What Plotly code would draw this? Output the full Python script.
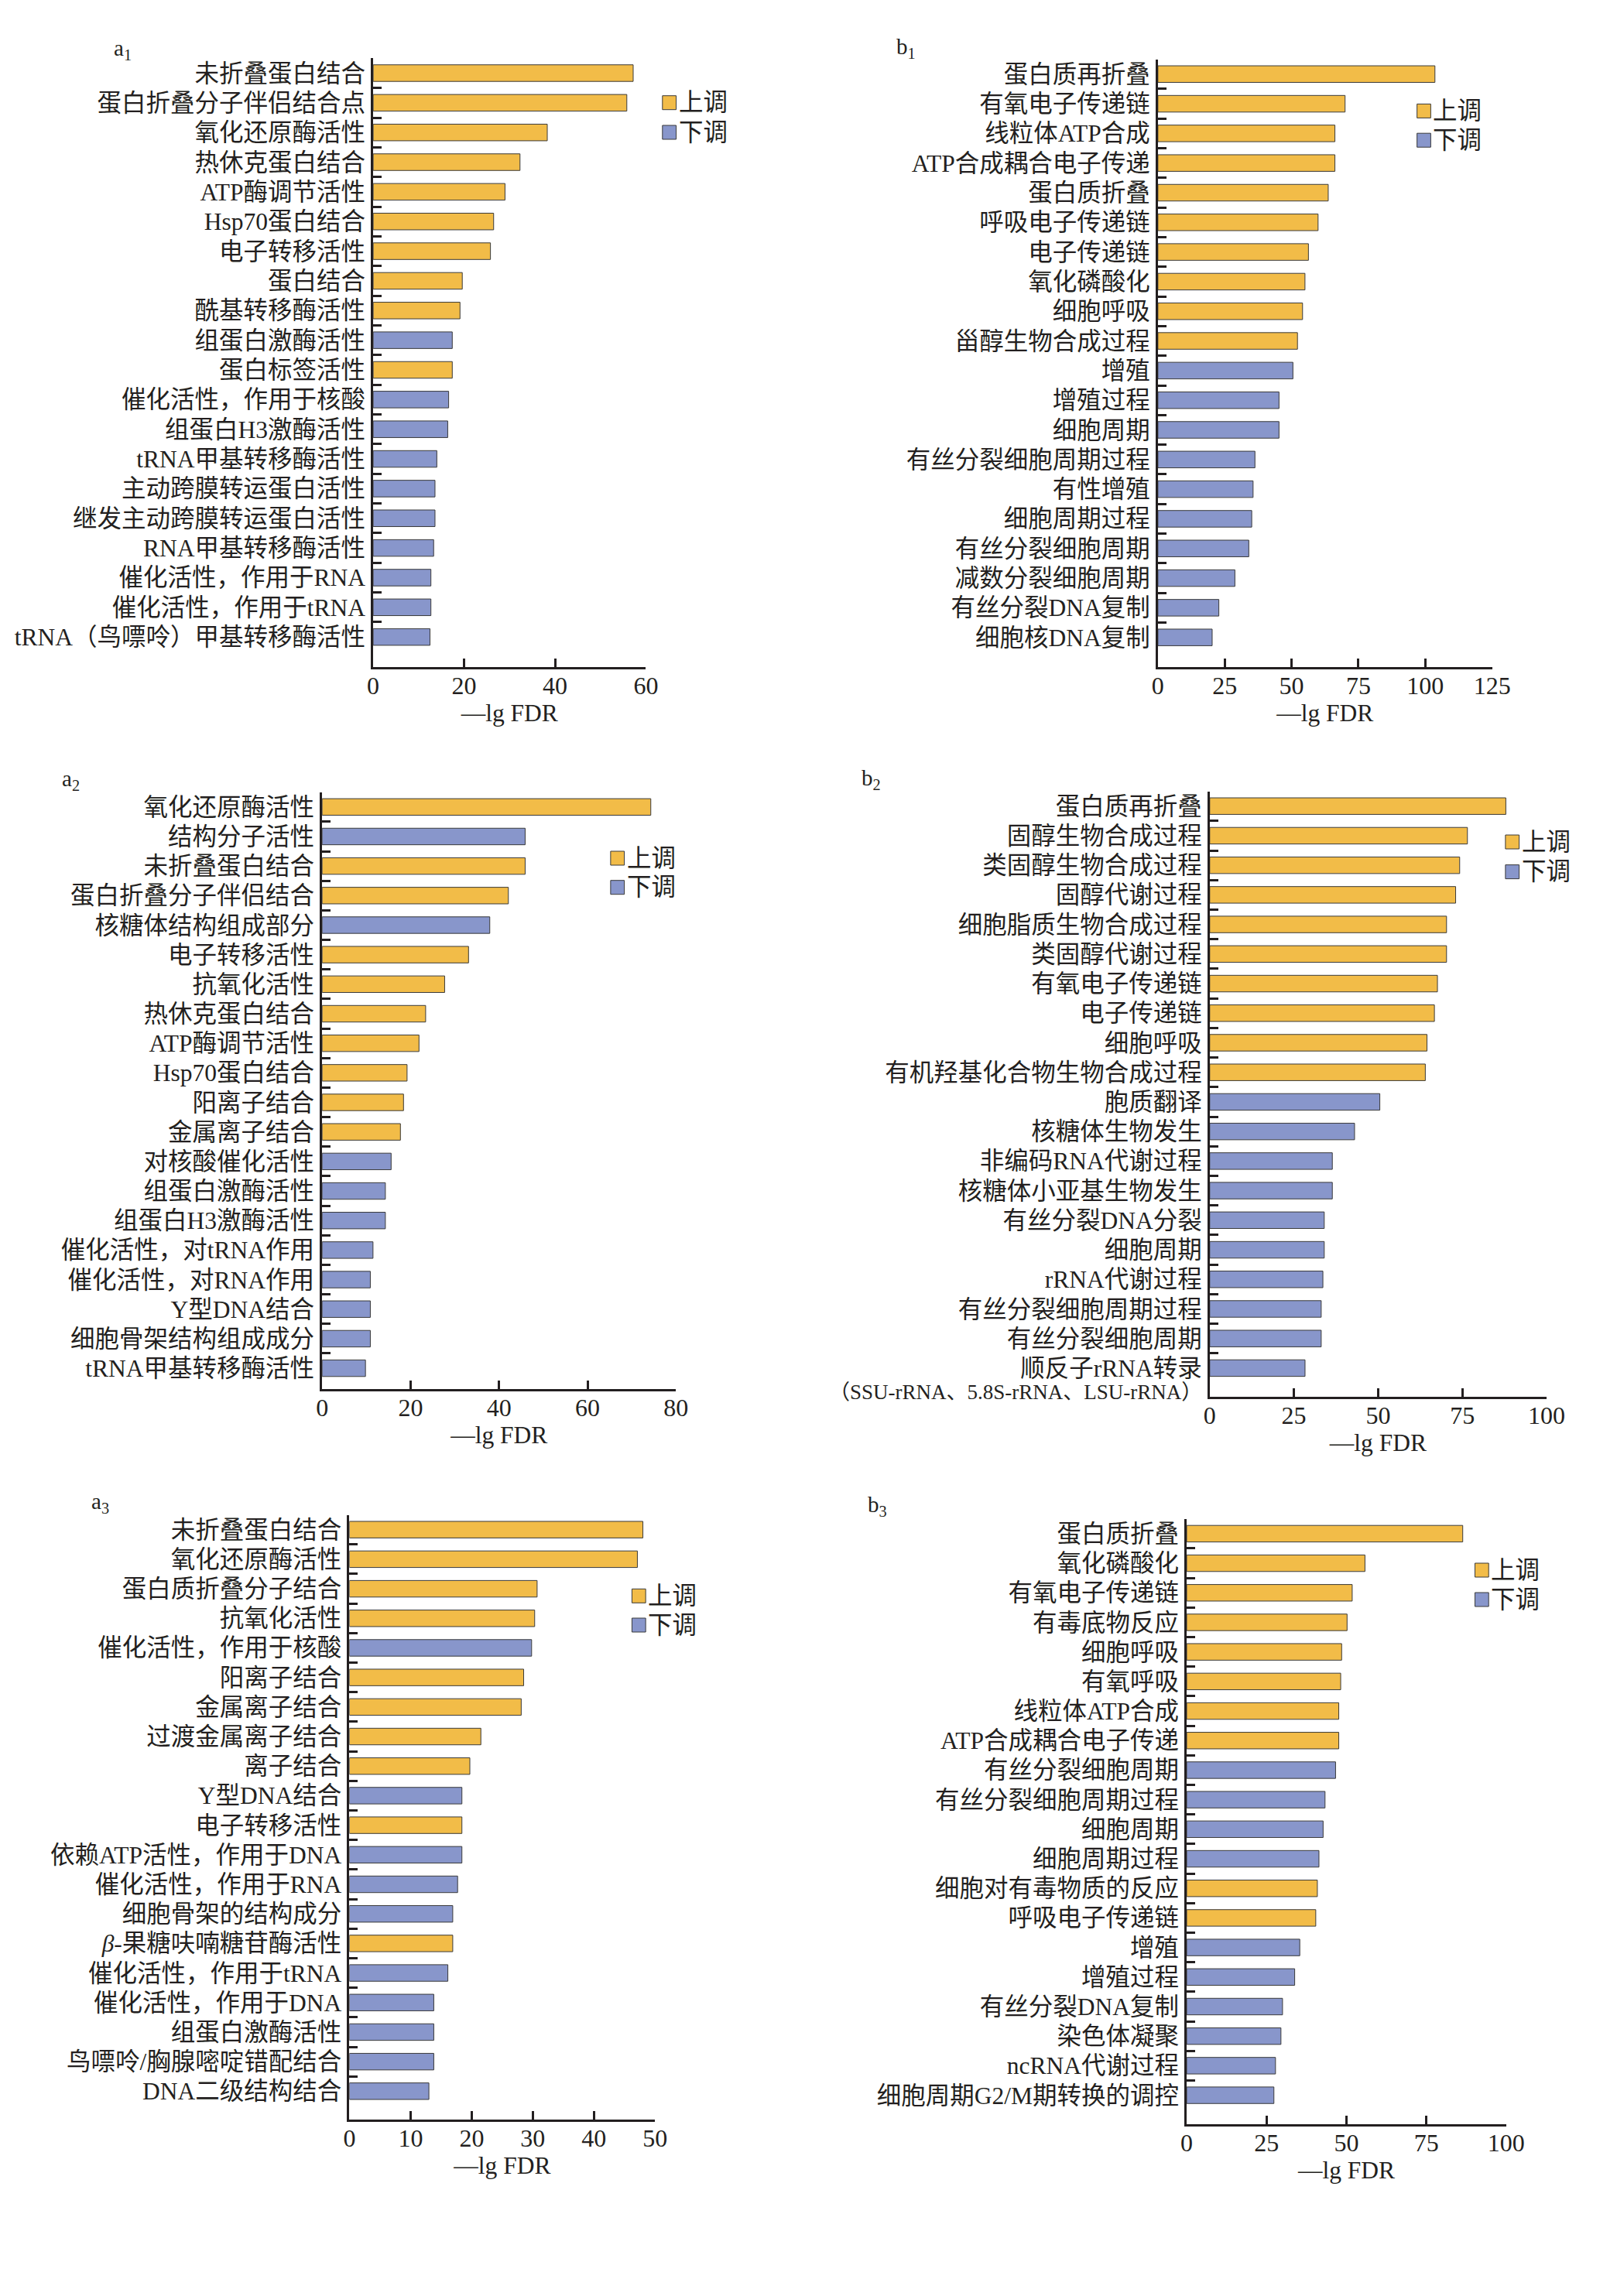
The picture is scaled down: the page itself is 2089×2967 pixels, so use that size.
import plotly.graph_objects as go

# ---------------- data ----------------
legend_names = ["上调", "下调"]
x_title = "\u2014lg FDR"

a1_labels = ["未折叠蛋白结合", "蛋白折叠分子伴侣结合点", "氧化还原酶活性", "热休克蛋白结合", "ATP酶调节活性",
             "Hsp70蛋白结合", "电子转移活性", "蛋白结合", "酰基转移酶活性", "组蛋白激酶活性", "蛋白标签活性",
             "催化活性，作用于核酸", "组蛋白H3激酶活性", "tRNA甲基转移酶活性", "主动跨膜转运蛋白活性",
             "继发主动跨膜转运蛋白活性", "RNA甲基转移酶活性", "催化活性，作用于RNA", "催化活性，作用于tRNA",
             "tRNA（鸟嘌呤）甲基转移酶活性"]
a1_values = [57.2, 55.8, 38.3, 32.3, 29.0, 26.5, 25.8, 19.6, 19.1, 17.4, 17.4, 16.6, 16.4, 14.0, 13.6, 13.6,
             13.3, 12.7, 12.7, 12.5]
a1_dirs = ["上调"] * 9 + ["下调", "上调"] + ["下调"] * 9
a1_ticks = [0, 20, 40, 60]

b1_labels = ["蛋白质再折叠", "有氧电子传递链", "线粒体ATP合成", "ATP合成耦合电子传递", "蛋白质折叠", "呼吸电子传递链",
             "电子传递链", "氧化磷酸化", "细胞呼吸", "甾醇生物合成过程", "增殖", "增殖过程", "细胞周期",
             "有丝分裂细胞周期过程", "有性增殖", "细胞周期过程", "有丝分裂细胞周期", "减数分裂细胞周期",
             "有丝分裂DNA复制", "细胞核DNA复制"]
b1_values = [103.6, 70.0, 66.2, 66.2, 63.7, 59.9, 56.3, 55.0, 54.1, 52.2, 50.5, 45.3, 45.3, 36.3, 35.6, 35.1,
             34.0, 28.8, 22.8, 20.3]
b1_dirs = ["上调"] * 10 + ["下调"] * 10
b1_ticks = [0, 25, 50, 75, 100, 125]

a2_labels = ["氧化还原酶活性", "结构分子活性", "未折叠蛋白结合", "蛋白折叠分子伴侣结合", "核糖体结构组成部分",
             "电子转移活性", "抗氧化活性", "热休克蛋白结合", "ATP酶调节活性", "Hsp70蛋白结合", "阳离子结合",
             "金属离子结合", "对核酸催化活性", "组蛋白激酶活性", "组蛋白H3激酶活性", "催化活性，对tRNA作用",
             "催化活性，对RNA作用", "Y型DNA结合", "细胞骨架结构组成成分", "tRNA甲基转移酶活性"]
a2_values = [74.3, 45.9, 45.9, 42.1, 37.9, 33.1, 27.7, 23.4, 21.9, 19.2, 18.4, 17.7, 15.6, 14.3, 14.3, 11.5,
             10.9, 10.9, 10.9, 9.8]
a2_dirs = ["上调", "下调", "上调", "上调", "下调"] + ["上调"] * 7 + ["下调"] * 8
a2_ticks = [0, 20, 40, 60, 80]

b2_labels = ["蛋白质再折叠", "固醇生物合成过程", "类固醇生物合成过程", "固醇代谢过程", "细胞脂质生物合成过程",
             "类固醇代谢过程", "有氧电子传递链", "电子传递链", "细胞呼吸", "有机羟基化合物生物合成过程", "胞质翻译",
             "核糖体生物发生", "非编码RNA代谢过程", "核糖体小亚基生物发生", "有丝分裂DNA分裂", "细胞周期",
             "rRNA代谢过程", "有丝分裂细胞周期过程", "有丝分裂细胞周期",
             "顺反子rRNA转录\n（SSU-rRNA、5.8S-rRNA、LSU-rRNA）"]
b2_values = [87.9, 76.5, 74.2, 73.0, 70.3, 70.3, 67.6, 66.7, 64.5, 64.0, 50.5, 43.0, 36.4, 36.4, 34.0, 34.0,
             33.6, 33.1, 33.1, 28.3]
b2_dirs = ["上调"] * 10 + ["下调"] * 10
b2_ticks = [0, 25, 50, 75, 100]

a3_labels = ["未折叠蛋白结合", "氧化还原酶活性", "蛋白质折叠分子结合", "抗氧化活性", "催化活性，作用于核酸",
             "阳离子结合", "金属离子结合", "过渡金属离子结合", "离子结合", "Y型DNA结合", "电子转移活性",
             "依赖ATP活性，作用于DNA", "催化活性，作用于RNA", "细胞骨架的结构成分", "<i>β</i>-果糖呋喃糖苷酶活性",
             "催化活性，作用于tRNA", "催化活性，作用于DNA", "组蛋白激酶活性", "鸟嘌呤/胸腺嘧啶错配结合",
             "DNA二级结构结合"]
a3_values = [48.0, 47.1, 30.7, 30.3, 29.8, 28.5, 28.1, 21.5, 19.7, 18.4, 18.4, 18.4, 17.7, 16.9, 16.9, 16.1,
             13.8, 13.8, 13.8, 13.0]
a3_dirs = ["上调", "上调", "上调", "上调", "下调", "上调", "上调", "上调", "上调", "下调", "上调", "下调",
           "下调", "下调", "上调", "下调", "下调", "下调", "下调", "下调"]
a3_ticks = [0, 10, 20, 30, 40, 50]

b3_labels = ["蛋白质折叠", "氧化磷酸化", "有氧电子传递链", "有毒底物反应", "细胞呼吸", "有氧呼吸", "线粒体ATP合成",
             "ATP合成耦合电子传递", "有丝分裂细胞周期", "有丝分裂细胞周期过程", "细胞周期", "细胞周期过程",
             "细胞对有毒物质的反应", "呼吸电子传递链", "增殖", "增殖过程", "有丝分裂DNA复制", "染色体凝聚",
             "ncRNA代谢过程", "细胞周期G2/M期转换的调控"]
b3_values = [86.4, 55.8, 51.8, 50.2, 48.5, 48.2, 47.6, 47.6, 46.6, 43.3, 42.7, 41.4, 40.9, 40.4, 35.4, 33.8,
             30.0, 29.5, 27.8, 27.3]
b3_dirs = ["上调"] * 8 + ["下调"] * 4 + ["上调", "上调"] + ["下调"] * 6
b3_ticks = [0, 25, 50, 75, 100]

panel_names = ["a<sub>1</sub>", "b<sub>1</sub>", "a<sub>2</sub>", "b<sub>2</sub>", "a<sub>3</sub>", "b<sub>3</sub>"]

# ---------------- style / layout ----------------
W, H = 2089, 2967
FONT = "Liberation Serif, Noto Sans CJK SC, serif"
INK = "#231F20"
COLORS = {"上调": "#F2BC48", "下调": "#8896CB"}
FS = 31.5
FS_TICK = 32
DX = 17  # right column offset

# plot boxes in pixels: x0, x1, ytop, ybottom, bottom range value
boxes = [
    (481.5, 839.3, 75.3, 861.5, 20.0),
    (1494.0 + DX, 1932.6 + DX, 76.6, 862.0, 20.0),
    (414.5, 878.8, 1023.7, 1794.8, 19.7),
    (1562.0 + DX, 2004.0 + DX, 1022.6, 1805.0, 19.97),
    (450.3, 851.4, 1957.6, 2739.0, 19.96),
    (1531.8 + DX, 1951.0 + DX, 1962.8, 2745.0, 19.98),
]
# legend square left x, first item centre y, second item centre y
legend_pos = [
    (861, 132.7, 171.0),
    (1834 + DX, 143.4, 181.2),
    (793, 1109.0, 1146.7),
    (1950 + DX, 1088.0, 1126.6),
    (821, 2062.3, 2100.0),
    (1910 + DX, 2029.0, 2067.0),
]
title_pos = [(139, 64), (1166, 62), (71, 1008), (1120, 1007), (110, 1942), (1128, 1946)]

panels = [
    (a1_labels, a1_values, a1_dirs, a1_ticks),
    (b1_labels, b1_values, b1_dirs, b1_ticks),
    (a2_labels, a2_values, a2_dirs, a2_ticks),
    (b2_labels, b2_values, b2_dirs, b2_ticks),
    (a3_labels, a3_values, a3_dirs, a3_ticks),
    (b3_labels, b3_values, b3_dirs, b3_ticks),
]

fig = go.Figure()
layout = {}
annotations = []
shapes = []

for i, (labels, values, dirs, ticks) in enumerate(panels):
    s = "" if i == 0 else str(i + 1)
    x0, x1, yt, yb, rb = boxes[i]
    first_lines = [lab.split("\n")[0] for lab in labels]
    fig.add_trace(go.Bar(
        x=values, y=first_lines, orientation="h",
        marker=dict(color=[COLORS[d] for d in dirs], line=dict(color="#3a3a3a", width=1)),
        width=0.56, xaxis="x" + s, yaxis="y" + s, showlegend=False,
        hovertemplate="%{y}: %{x}<extra></extra>",
    ))
    layout["xaxis" + s] = dict(
        domain=[x0 / W, x1 / W], anchor="y" + s, range=[0, ticks[-1]],
        tickmode="array", tickvals=ticks, ticktext=[str(t) for t in ticks],
        ticks="inside", ticklen=11, tickwidth=2.5, tickcolor=INK,
        showline=True, linewidth=2.5, linecolor=INK, showgrid=False, zeroline=False,
        tickfont=dict(family=FONT, size=FS_TICK, color=INK), ticklabelstandoff=-6,
        title=dict(text=x_title, standoff=0, font=dict(family=FONT, size=FS, color=INK)),
    )
    layout["yaxis" + s] = dict(
        domain=[1 - yb / H, 1 - yt / H], anchor="x" + s, type="category",
        categoryorder="array", categoryarray=first_lines, range=[rb, -0.5],
        tickson="boundaries", ticks="inside", ticklen=11, tickwidth=2.5, tickcolor=INK,
        showline=True, linewidth=2.5, linecolor=INK, showgrid=False, zeroline=False,
        tickfont=dict(family=FONT, size=FS, color=INK), ticklabelstandoff=1,
    )
    # extra lines of multi-line labels
    for lab in labels:
        parts = lab.split("\n")
        if len(parts) > 1:
            annotations.append(dict(
                text="<br>".join(parts[1:]), xref="x" + s + " domain", yref="y" + s,
                x=0, y=parts[0], xanchor="right", yanchor="middle", xshift=-8, yshift=-31,
                showarrow=False, font=dict(family=FONT, size=27, color=INK),
            ))
    # panel title
    tx, ty = title_pos[i]
    annotations.append(dict(
        text=panel_names[i], xref="paper", yref="paper", x=tx / W, y=1 - ty / H,
        xanchor="left", yanchor="middle", showarrow=False,
        font=dict(family=FONT, size=29, color=INK),
    ))
    # legend
    lx, ly1, ly2 = legend_pos[i]
    for name, ly in zip(legend_names, (ly1, ly2)):
        shapes.append(dict(
            type="rect", xref="paper", yref="paper",
            x0=lx / W, x1=(lx + 18) / W, y0=1 - (ly + 9) / H, y1=1 - (ly - 9) / H,
            fillcolor=COLORS[name], line=dict(color="#3a3a3a", width=1),
        ))
        annotations.append(dict(
            text=name, xref="paper", yref="paper", x=(lx + 19) / W, y=1 - ly / H,
            xanchor="left", yanchor="middle", showarrow=False,
            font=dict(family=FONT, size=FS, color=INK),
        ))

fig.update_layout(
    width=W, height=H, margin=dict(l=0, r=0, t=0, b=0),
    paper_bgcolor="white", plot_bgcolor="white",
    font=dict(family=FONT, size=FS, color=INK),
    annotations=annotations, shapes=shapes, bargap=0.44,
    **layout,
)

fig.write_html("out.html")
